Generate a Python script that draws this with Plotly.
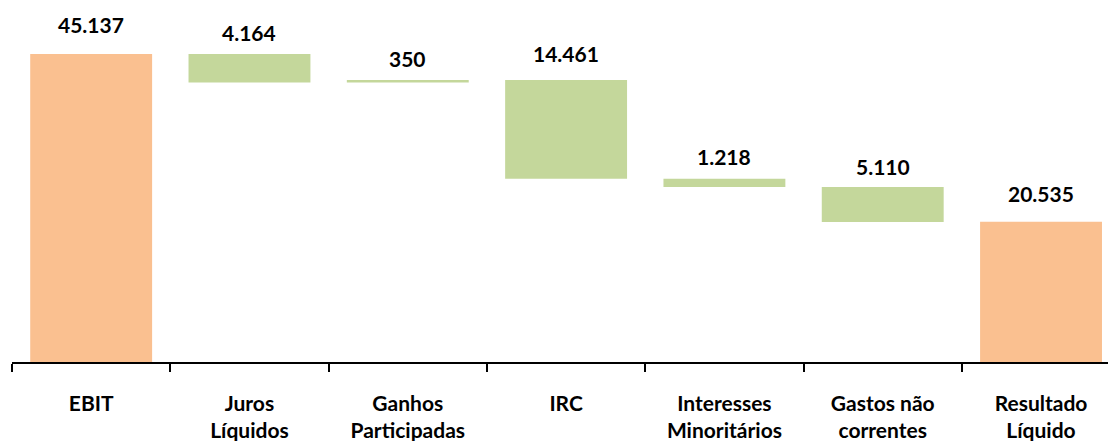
import plotly.graph_objects as go

# data (thousands, pt-PT formatting)
categories = ["EBIT", "Juros<br>Líquidos", "Ganhos<br>Participadas", "IRC",
              "Interesses<br>Minoritários", "Gastos não<br>correntes", "Resultado<br>Líquido"]
ebit = 45137
changes = [-4164, 350, -14461, -1218, -5110]
resultado = 20535

ORANGE = "#FAC090"
GREEN = "#C4D79B"

# build floating bars: base + height
bases, heights, colors, labels = [0], [ebit], [ORANGE], [ebit]
level = ebit
for c in changes:
    new = level + c
    bases.append(min(level, new))
    heights.append(abs(c))
    colors.append(GREEN)
    labels.append(abs(c))
    level = new
bases.append(0)
heights.append(resultado)
colors.append(ORANGE)
labels.append(resultado)

fig = go.Figure(go.Bar(
    x=categories, y=heights, base=bases,
    marker=dict(color=colors, line=dict(width=0)),
    width=0.77, hoverinfo="skip",
))

# value labels above each bar (gap in px roughly as in the original)
gaps = [21, 13, 13, 18, 14, 12, 20]
for cat, b, h, v, g in zip(categories, bases, heights, labels, gaps):
    fig.add_annotation(
        x=cat, y=b + h, text=f"<b>{v:,}</b>".replace(",", "."),
        showarrow=False, yanchor="bottom", yshift=g - 6,
        font=dict(family="Lato", size=21, color="#000000"),
    )

fig.update_layout(
    width=1108, height=441,
    margin=dict(l=12, r=0, t=0, b=79),
    paper_bgcolor="#FFFFFF", plot_bgcolor="#FFFFFF",
    showlegend=False,
    font=dict(family="Lato", size=21, color="#000000"),
)
fig.update_xaxes(
    type="category", range=[-0.5, 6.423],
    showline=True, linecolor="#000000", linewidth=1.5,
    ticks="outside", tickson="boundaries", ticklen=8, tickcolor="#000000", tickwidth=1.5,
    tickfont=dict(family="Lato", size=21, color="#000000", weight="bold"),
    ticklabelstandoff=22, showgrid=False, zeroline=False,
)
fig.update_yaxes(range=[0, 53050], visible=False, showgrid=False, zeroline=False)

# drop the default page margin so the figure sits at the window's corner
fig.write_html("out.html", config={"displayModeBar": False},
               post_script="document.body.style.margin='0';")
